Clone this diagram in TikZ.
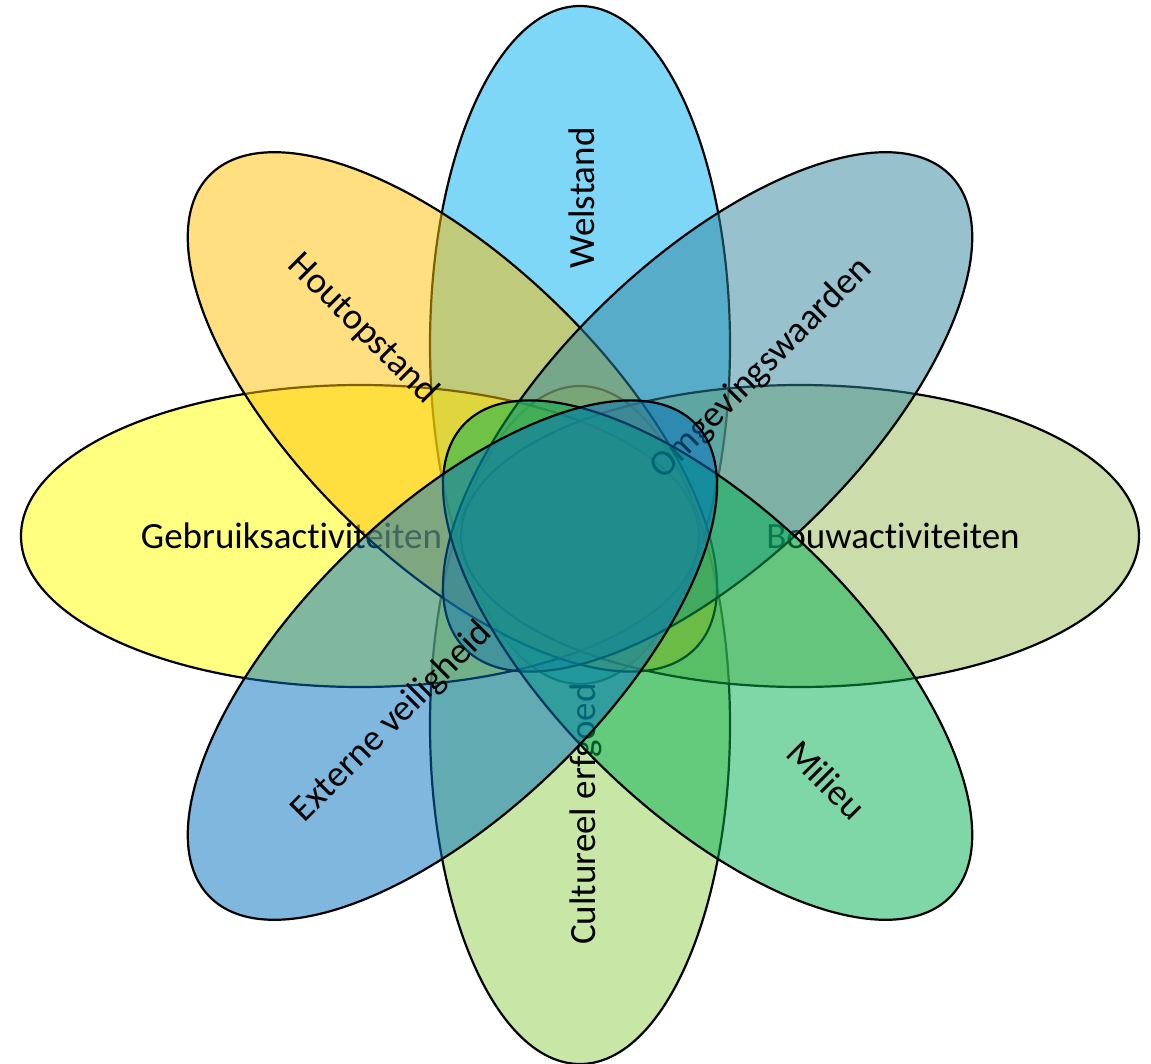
\documentclass[tikz,border=0pt]{standalone}
\usepackage{fontspec}
\setmainfont{Carlito}[Ligatures=NoCommon]
\definecolor{cWel}{HTML}{00B0F0}
\definecolor{cCult}{HTML}{92D050}
\definecolor{cGeb}{HTML}{FFFF00}
\definecolor{cBouw}{HTML}{9BBB59}
\definecolor{cHout}{HTML}{FFC000}
\definecolor{cOmg}{HTML}{31859C}
\definecolor{cMil}{HTML}{00B050}
\definecolor{cExt}{HTML}{0070C0}
\tikzset{
  petal/.style={line width=1.1pt, draw=black, fill opacity=0.5},
  lab/.style={font=\fontsize{18.5}{22}\selectfont, text=black, anchor=base, inner sep=0pt},
}
\begin{document}
\begin{tikzpicture}[x=0.5pt,y=-0.5pt]
\fill[white] (0,0) rectangle (1151,1064);
\useasboundingbox (0,0) rectangle (1151,1064);

% Welstand (top)
\filldraw[petal, fill=cWel] (580,345) ellipse [x radius=75pt, y radius=169.5pt];
\node[lab, rotate=90] (welstand) at (594,198) {Welstand};

% Cultureel erfgoed (bottom)
\filldraw[petal, fill=cCult] (580,725) ellipse [x radius=75pt, y radius=169.5pt];
\node[lab, rotate=90] (cultureel) at (595,814) {Cultureel erfgoed};

% Gebruiksactiviteiten (left)
\filldraw[petal, fill=cGeb] (360,536) ellipse [x radius=169.5pt, y radius=75.5pt];
\node[lab] (gebruik) at (291.5,548) {Gebruiksactiviteiten};

% Bouwactiviteiten (right)
\filldraw[petal, fill=cBouw] (800,536) ellipse [x radius=169.5pt, y radius=75.5pt];
\node[lab] (bouw) at (893,548) {Bouwactiviteiten};

% Houtopstand (top left)
\filldraw[petal, fill=cHout, rotate around={-44.2:(452.4,411.9)}] (452.4,411.9) ellipse [x radius=169.5pt, y radius=75pt];
\node[lab, rotate=-45] (hout) at (356,336) {Houtopstand};

% Omgevingswaarden (top right)
\filldraw[petal, fill=cOmg, rotate around={44.2:(707.6,411.9)}] (707.6,411.9) ellipse [x radius=169.5pt, y radius=75pt];
\node[lab, rotate=45] (omg) at (768,376) {Omgevingswaarden};

% Milieu (bottom right)
\filldraw[petal, fill=cMil, rotate around={-44.2:(707.6,660.1)}] (707.6,660.1) ellipse [x radius=169.5pt, y radius=75pt];
\node[lab, rotate=-45] (milieu) at (818,789) {Milieu};

% Externe veiligheid (bottom left)
\filldraw[petal, fill=cExt, rotate around={44.2:(452.4,660.1)}] (452.4,660.1) ellipse [x radius=169.5pt, y radius=75pt];
\node[lab, rotate=45] (extern) at (399,729) {Externe veiligheid};
\end{tikzpicture}
\end{document}
